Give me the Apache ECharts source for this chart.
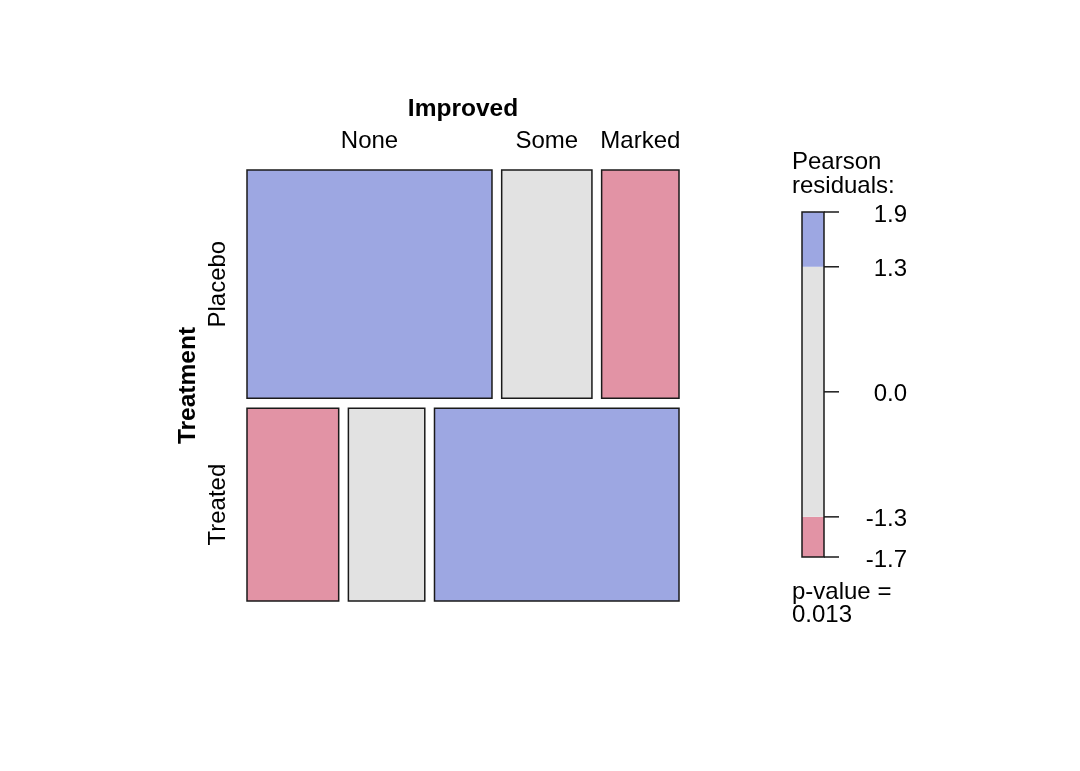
<!DOCTYPE html>
<html>
<head>
<meta charset="utf-8">
<script src="https://cdn.jsdelivr.net/npm/echarts@6/dist/echarts.min.js"></script>
<style>
html,body{margin:0;padding:0;background:#fff;}
#chart{width:1080px;height:771px;}
</style>
</head>
<body>
<div id="chart"></div>
<script>
// ---- data (Arthritis, female subset) ----
const treatmentLevels = ['Placebo', 'Treated'];
const improvedLevels = ['None', 'Some', 'Marked'];
const placeboCounts = [19, 7, 6];
const treatedCounts = [6, 5, 16];
const shadeCuts = [1.3, -1.3];
const residualTickLabels = ['1.9', '1.3', '0.0', '-1.3', '-1.7'];
const pValueText = '0.013';
const varNames = ['Improved', 'Treatment'];

// ---- derived ----
const table = [placeboCounts, treatedCounts];
const rowTotals = table.map(r => r.reduce((a, b) => a + b, 0));
const colTotals = improvedLevels.map((_, j) => table.reduce((a, r) => a + r[j], 0));
const N = rowTotals.reduce((a, b) => a + b, 0);
const residuals = table.map((r, i) => r.map((o, j) => {
  const e = rowTotals[i] * colTotals[j] / N;
  return (o - e) / Math.sqrt(e);
}));
const allRes = residuals.flat();
const resMax = Math.max.apply(null, allRes);
const resMin = Math.min.apply(null, allRes);

const COL_BLUE = '#9da7e2';
const COL_GRAY = '#e2e2e2';
const COL_RED = '#e293a5';
const STROKE = '#1a1a1a';
const FONT = 'Liberation Sans, Arial, sans-serif';
const FS = 24;

function shade(r) {
  if (r > shadeCuts[0]) return COL_BLUE;
  if (r < shadeCuts[1]) return COL_RED;
  return COL_GRAY;
}

// layout spacing in axis units (grid spans 0..1)
const GAP_X = 9.7 / 432;
const GAP_Y = 10 / 431;
const usableY = 1 - GAP_Y * (treatmentLevels.length - 1);
const usableX = 1 - GAP_X * (improvedLevels.length - 1);

const cells = [];
const rowCenters = [];
let yCursor = 0;
table.forEach((row, i) => {
  const h = usableY * rowTotals[i] / N;
  let xCursor = 0;
  row.forEach((c, j) => {
    const w = usableX * c / rowTotals[i];
    cells.push([xCursor, xCursor + w, yCursor, yCursor + h, residuals[i][j], i, j]);
    xCursor += w + GAP_X;
  });
  rowCenters.push(yCursor + h / 2);
  yCursor += h + GAP_Y;
});
const colLabelData = cells.filter(c => c[5] === 0).map(c => [(c[0] + c[1]) / 2, 0]);
const rowLabelData = rowCenters.map(y => [0, y]);

const legendBands = [
  [resMin, shadeCuts[1], COL_RED],
  [shadeCuts[1], shadeCuts[0], COL_GRAY],
  [shadeCuts[0], resMax, COL_BLUE]
];
const legendTickVals = [resMax, shadeCuts[0], 0, shadeCuts[1], resMin];

const chart = echarts.init(document.getElementById('chart'), null, {renderer: 'canvas'});

const option = {
  backgroundColor: '#ffffff',
  animation: false,
  grid: [
    {left: 247, top: 170, width: 432, height: 431},
    {left: 802, top: 212, width: 22, height: 345}
  ],
  xAxis: [
    {gridIndex: 0, type: 'value', min: 0, max: 1, show: false},
    {gridIndex: 1, type: 'value', min: 0, max: 1, show: false}
  ],
  yAxis: [
    {gridIndex: 0, type: 'value', min: 0, max: 1, inverse: true, show: false},
    {gridIndex: 1, type: 'value', min: resMin, max: resMax, show: false}
  ],
  series: [
    {
      type: 'custom', xAxisIndex: 0, yAxisIndex: 0,
      data: cells,
      renderItem: function (params, api) {
        const p0 = api.coord([api.value(0), api.value(2)]);
        const p1 = api.coord([api.value(1), api.value(3)]);
        return {
          type: 'rect',
          shape: {x: p0[0], y: Math.min(p0[1], p1[1]), width: p1[0] - p0[0], height: Math.abs(p1[1] - p0[1])},
          style: {fill: shade(api.value(4)), stroke: STROKE, lineWidth: 1.5}
        };
      }
    },
    {
      type: 'custom', xAxisIndex: 0, yAxisIndex: 0,
      data: colLabelData,
      renderItem: function (params, api) {
        const p = api.coord([api.value(0), api.value(1)]);
        return {
          type: 'text',
          style: {text: improvedLevels[params.dataIndex], x: p[0], y: p[1] - 29, align: 'center', verticalAlign: 'middle',
            fill: '#000', fontSize: FS, fontFamily: FONT}
        };
      }
    },
    {
      type: 'custom', xAxisIndex: 0, yAxisIndex: 0,
      data: rowLabelData,
      renderItem: function (params, api) {
        const p = api.coord([api.value(0), api.value(1)]);
        return {
          type: 'text', x: p[0] - 29, y: p[1], rotation: Math.PI / 2,
          style: {text: treatmentLevels[params.dataIndex], x: 0, y: 0, align: 'center', verticalAlign: 'middle',
            fill: '#000', fontSize: FS, fontFamily: FONT}
        };
      }
    },
    {
      type: 'custom', xAxisIndex: 0, yAxisIndex: 0,
      data: [[0.5, 0, 0], [0, 0.5, 1]],
      renderItem: function (params, api) {
        const p = api.coord([api.value(0), api.value(1)]);
        if (params.dataIndex === 0) {
          return {type: 'text', style: {text: varNames[0], x: p[0], y: p[1] - 61, align: 'center', verticalAlign: 'middle',
            fill: '#000', fontSize: 24.5, fontWeight: 'bold', fontFamily: FONT}};
        }
        return {type: 'text', x: p[0] - 59, y: p[1], rotation: Math.PI / 2,
          style: {text: varNames[1], x: 0, y: 0, align: 'center', verticalAlign: 'middle',
            fill: '#000', fontSize: 24.5, fontWeight: 'bold', fontFamily: FONT}};
      }
    },
    {
      type: 'custom', xAxisIndex: 1, yAxisIndex: 1,
      data: legendBands.map(b => [b[0], b[1]]),
      renderItem: function (params, api) {
        const p0 = api.coord([0, api.value(1)]);
        const p1 = api.coord([1, api.value(0)]);
        return {
          type: 'rect',
          shape: {x: p0[0], y: p0[1], width: p1[0] - p0[0], height: p1[1] - p0[1]},
          style: {fill: legendBands[params.dataIndex][2]}
        };
      }
    },
    {
      type: 'custom', xAxisIndex: 1, yAxisIndex: 1,
      data: legendTickVals.map(v => [1, v]),
      renderItem: function (params, api) {
        const p = api.coord([api.value(0), api.value(1)]);
        return {
          type: 'group',
          children: [
            {type: 'line', shape: {x1: p[0], y1: p[1], x2: p[0] + 15, y2: p[1]},
              style: {stroke: STROKE, lineWidth: 1.5}},
            {type: 'text', style: {text: residualTickLabels[params.dataIndex], x: p[0] + 83, y: p[1] + 3,
              align: 'right', verticalAlign: 'middle', fill: '#000', fontSize: FS, fontFamily: FONT}}
          ]
        };
      }
    },
    {
      type: 'custom', xAxisIndex: 1, yAxisIndex: 1,
      data: [[resMin, resMax]],
      renderItem: function (params, api) {
        const p0 = api.coord([0, api.value(1)]);
        const p1 = api.coord([1, api.value(0)]);
        return {
          type: 'group',
          children: [
            {type: 'rect', shape: {x: p0[0], y: p0[1], width: p1[0] - p0[0], height: p1[1] - p0[1]},
              style: {fill: 'none', stroke: STROKE, lineWidth: 1.5}},
            {type: 'text', style: {text: 'Pearson', x: p0[0] - 10, y: p0[1] - 50, align: 'left', verticalAlign: 'middle',
              fill: '#000', fontSize: FS, fontFamily: FONT}},
            {type: 'text', style: {text: 'residuals:', x: p0[0] - 10, y: p0[1] - 26, align: 'left', verticalAlign: 'middle',
              fill: '#000', fontSize: FS, fontFamily: FONT}},
            {type: 'text', style: {text: 'p-value =', x: p0[0] - 10, y: p1[1] + 35, align: 'left', verticalAlign: 'middle',
              fill: '#000', fontSize: FS, fontFamily: FONT}},
            {type: 'text', style: {text: pValueText, x: p0[0] - 10, y: p1[1] + 58, align: 'left', verticalAlign: 'middle',
              fill: '#000', fontSize: FS, fontFamily: FONT}}
          ]
        };
      }
    }
  ]
};
chart.setOption(option);
</script>
</body>
</html>
